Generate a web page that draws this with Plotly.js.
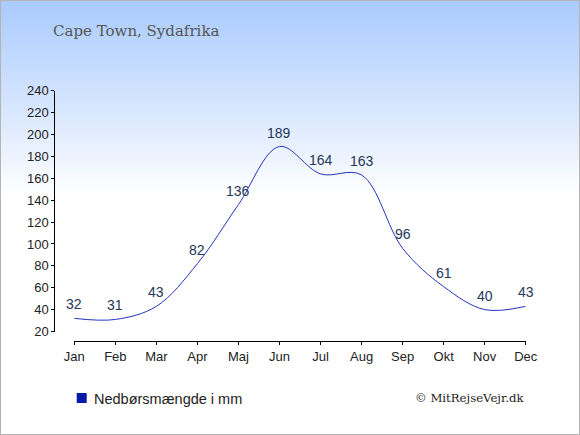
<!DOCTYPE html>
<html>
<head>
<meta charset="utf-8">
<script src="https://cdn.plot.ly/plotly-3.0.1.min.js"></script>
<style>
  html, body { margin: 0; padding: 0; }
  #wrap { position: relative; width: 580px; height: 435px;
          background: linear-gradient(to bottom, #a9cbfe 0px, #dce9ff 120px, #ffffff 195px, #ffffff 435px); }
  #chart { position: absolute; left: 0; top: 0; width: 580px; height: 435px; }
  #frame { position: absolute; left: 0; top: 0; width: 580px; height: 435px;
           box-sizing: border-box; border: 1px solid #b4b4b4; pointer-events: none; }
</style>
</head>
<body>
<div id="wrap"><div id="chart"></div><div id="frame"></div></div>
<script>
const months = ["Jan","Feb","Mar","Apr","Maj","Jun","Jul","Aug","Sep","Okt","Nov","Dec"];
const rainfall = [32, 31, 43, 82, 136, 189, 164, 163, 96, 61, 40, 43];
const yTicks = [20, 40, 60, 80, 100, 120, 140, 160, 180, 200, 220, 240];
const titleText = "Cape Town, Sydafrika";
const seriesName = "Nedbørsmængde i mm";
const creditText = "© MitRejseVejr.dk";

const W = 580, H = 435;
const px = v => v / W;
const py = v => 1 - v / H;

const lineColor = "#2233bb";
const labelColor = "#26375a";

const traces = [
  {
    x: months, y: rainfall, type: "scatter", mode: "lines",
    line: { color: lineColor, width: 1, shape: "spline", smoothing: 1 },
    showlegend: false, hoverinfo: "skip", xaxis: "x", yaxis: "y"
  },
  {
    x: [null], y: [null], type: "scatter", mode: "markers", name: seriesName,
    marker: { symbol: "square", size: 10, color: "#0a1aa8" },
    showlegend: true, xaxis: "x", yaxis: "y"
  }
];

const annotations = rainfall.map((v, i) => ({
  x: months[i], y: v, xref: "x", yref: "y", text: String(v),
  showarrow: false, yshift: 14,
  font: { family: "Liberation Sans, Arial, sans-serif", size: 14, color: labelColor }
}));
annotations.push({
  xref: "paper", yref: "paper", x: px(51), y: py(31), xanchor: "left", yanchor: "middle",
  text: titleText, showarrow: false,
  font: { family: "DejaVu Serif, Georgia, serif", size: 15, color: "#555555" }
});
annotations.push({
  xref: "paper", yref: "paper", x: px(526), y: py(398), xanchor: "right", yanchor: "middle",
  text: creditText, showarrow: false,
  font: { family: "DejaVu Serif, Georgia, serif", size: 11.7, color: "#222222" }
});

const tickFont = { family: "Liberation Sans, Arial, sans-serif", size: 13, color: "#222222" };
const xDomain = [px(74.3), px(525.7)];
const yDomain = [py(331.5), py(90.7)];
const xPos = py(341);
const yPos = px(54.3);

const layout = {
  width: W, height: H,
  margin: { l: 0, r: 0, t: 0, b: 0 },
  paper_bgcolor: "rgba(0,0,0,0)", plot_bgcolor: "rgba(0,0,0,0)",
  showlegend: true,
  legend: {
    x: px(61.7), y: py(398), xanchor: "left", yanchor: "middle",
    bgcolor: "rgba(0,0,0,0)",
    font: { family: "Liberation Sans, Arial, sans-serif", size: 14.5, color: "#222222" }
  },
  xaxis: {
    type: "category", categoryarray: months, range: [0, 11], domain: xDomain,
    anchor: "free", position: xPos,
    showline: true, linecolor: "#000", linewidth: 1,
    ticks: "outside", ticklen: 3, tickcolor: "#000", tickwidth: 1,
    showgrid: false, zeroline: false, tickfont: tickFont, fixedrange: true
  },
  xaxis2: {
    type: "category", categoryarray: months, range: [0, 11], domain: xDomain,
    anchor: "free", position: xPos, overlaying: "x",
    showline: false, ticks: "inside", ticklen: 3, tickcolor: "#000", tickwidth: 1,
    showticklabels: false, showgrid: false, zeroline: false
  },
  yaxis: {
    range: [20, 240], domain: yDomain, tickvals: yTicks,
    anchor: "free", position: yPos,
    showline: true, linecolor: "#000", linewidth: 1,
    ticks: "outside", ticklen: 3, tickcolor: "#000", tickwidth: 1,
    showgrid: false, zeroline: false, tickfont: tickFont, fixedrange: true
  },
  yaxis2: {
    range: [20, 240], domain: yDomain, tickvals: yTicks,
    anchor: "free", position: yPos, overlaying: "y",
    showline: false, ticks: "inside", ticklen: 3, tickcolor: "#000", tickwidth: 1,
    showticklabels: false, showgrid: false, zeroline: false
  },
  annotations: annotations
};

Plotly.newPlot("chart", traces, layout, { displayModeBar: false, staticPlot: true }).then(gd => {
  // pull the legend label closer to its square, as in the reference
  const t = gd.querySelector(".legend .legendtext");
  if (t) {
    const left = t.getBoundingClientRect().left;
    const cur = parseFloat(t.getAttribute("x") || "0");
    t.setAttribute("x", String(cur + (94 - left)));
  }
});
</script>
</body>
</html>
